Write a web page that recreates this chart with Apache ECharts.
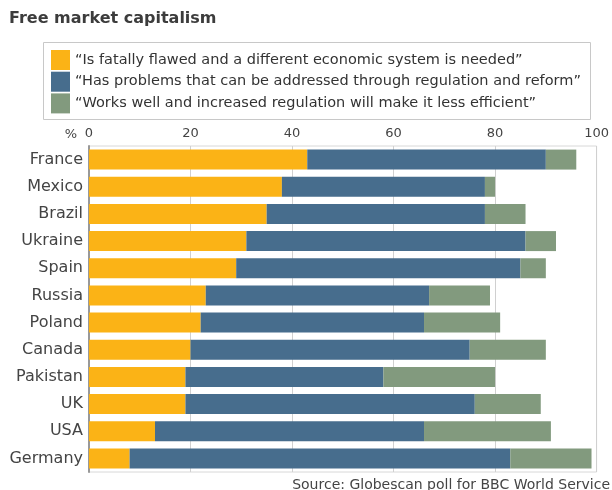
<!DOCTYPE html>
<html>
<head>
<meta charset="utf-8">
<script src="https://cdn.jsdelivr.net/npm/echarts@6/dist/echarts.min.js"></script>
<style>html,body{margin:0;padding:0;background:#fff;}#c{width:612px;height:490px;}</style>
</head>
<body>
<div id="c"></div>
<script>
const categories = ["France","Mexico","Brazil","Ukraine","Spain","Russia","Poland","Canada","Pakistan","UK","USA","Germany"];
const seriesNames = [
  "\u201cIs fatally flawed and a different economic system is needed\u201d",
  "\u201cHas problems that can be addressed through regulation and reform\u201d",
  "\u201cWorks well and increased regulation will make it less efficient\u201d"
];
const fatallyFlawed = [43,38,35,31,29,23,22,20,19,19,13,8];
const hasProblems   = [47,40,43,55,56,44,44,55,39,57,53,75];
const worksWell     = [6,2,8,6,5,12,15,15,22,13,25,16];
const xTicks = [0,20,40,60,80,100];
const colors = ["#FBB316","#476D8D","#829A7E"];

const chart = echarts.init(document.getElementById('c'), null, {renderer:'canvas'});
const font = 'DejaVu Sans, Verdana, sans-serif';
const dataSets = [fatallyFlawed, hasProblems, worksWell];
chart.setOption({
  animation:false,
  backgroundColor:'#fff',
  textStyle:{fontFamily:font},
  title:{
    text:'Free market capitalism', left:9, top:11, padding:0,
    textStyle:{fontFamily:font, fontSize:16, fontWeight:'bold', color:'#3c3c3c'}
  },
  legend:{
    orient:'vertical', left:51, top:50, padding:0,
    itemWidth:19, itemHeight:20, itemGap:1.7,
    icon:'rect', selectedMode:false,
    textStyle:{fontFamily:font, fontSize:14.5, color:'#333', lineHeight:20},
    data:seriesNames
  },
  graphic:[
    {type:'rect', shape:{x:43.5, y:42.5, width:547, height:77},
     style:{fill:'none', stroke:'#c8c8c8', lineWidth:1}, z:-1},
    {type:'text', x:77, y:134.5,
     style:{text:'%', fontFamily:font, fontSize:13, fill:'#444', textAlign:'right', textVerticalAlign:'middle'}},
    {type:'text', x:610, y:485,
     style:{text:'Source: Globescan poll for BBC World Service', fontFamily:font, fontSize:14, fill:'#444', textAlign:'right', textVerticalAlign:'middle'}}
  ],
  grid:{left:89, right:15, top:146, bottom:18, show:true, borderColor:'#d8d8d8', borderWidth:1, containLabel:false},
  xAxis:{
    type:'value', position:'top', min:xTicks[0], max:xTicks[xTicks.length-1], interval:20,
    axisLine:{show:false}, axisTick:{show:false},
    axisLabel:{fontFamily:font, fontSize:13, color:'#444', margin:6},
    splitLine:{show:true, lineStyle:{color:'#d0d0d0', width:1}}
  },
  yAxis:{
    type:'category', data:categories, inverse:true,
    axisLine:{show:true, lineStyle:{color:'#999', width:2}},
    axisTick:{show:false},
    axisLabel:{fontFamily:font, fontSize:16, color:'#444', margin:6}
  },
  series: seriesNames.map((n,i)=>({
    name:n, type:'bar', stack:'total', barWidth:20,
    itemStyle:{color:colors[i]},
    data:dataSets[i]
  }))
});
</script>
</body>
</html>
